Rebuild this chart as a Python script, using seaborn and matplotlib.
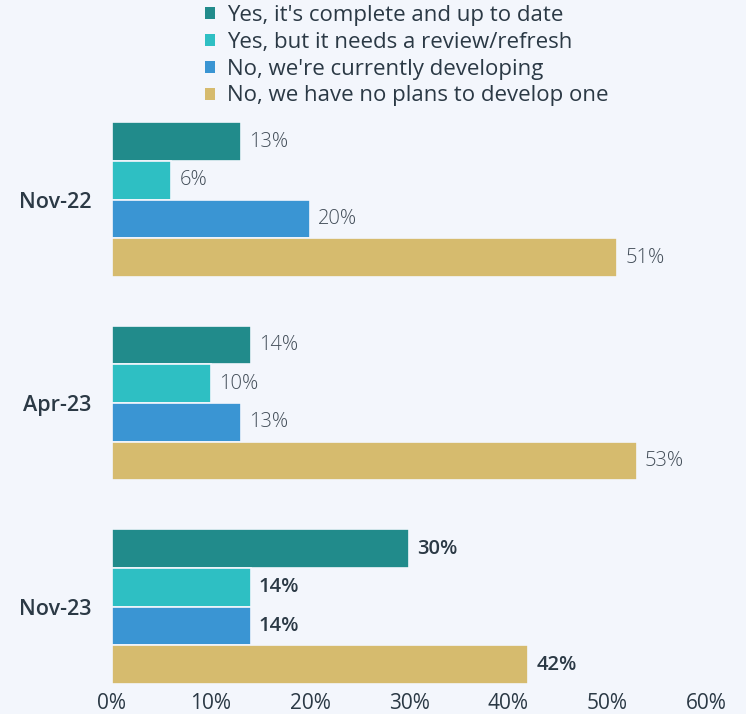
import matplotlib
matplotlib.use("Agg")
import pandas as pd
import matplotlib.pyplot as plt
import seaborn as sns
from matplotlib.patches import Patch

periods = ["Nov-22", "Apr-23", "Nov-23"]
responses = [
    "Yes, it's complete and up to date",
    "Yes, but it needs a review/refresh",
    "No, we're currently developing",
    "No, we have no plans to develop one",
]
complete = [13, 14, 30]
needs_review = [6, 10, 14]
developing = [20, 13, 14]
no_plans = [51, 53, 42]
x_ticks = [0, 10, 20, 30, 40, 50, 60]

colors = ["#218b8b", "#2ebfc3", "#3a95d3", "#d6bb6e"]
bg = "#f3f6fc"
dark = "#2b3945"
grey = "#434e59"

sns.set_theme(style="white")
plt.rcParams["font.family"] = ["Open Sans", "DejaVu Sans"]

df = pd.DataFrame({
    "period": periods * 4,
    "response": [r for r in responses for _ in periods],
    "value": complete + needs_review + developing + no_plans,
})

fig = plt.figure(figsize=(7.46, 7.14), dpi=100, facecolor=bg)
ax = fig.add_axes([112 / 746, 1 - 690 / 714, (706 - 112) / 746, (690 - 112) / 714])
ax.set_facecolor(bg)

sns.barplot(data=df, y="period", x="value", hue="response", hue_order=responses,
            order=periods, orient="h", palette=colors, width=0.76,
            edgecolor=bg, linewidth=1.2, saturation=1, legend=False, ax=ax)

# value labels: last survey is emphasised
for container in ax.containers:
    texts = ax.bar_label(container, fmt="%g%%", padding=6, fontsize=14.5,
                         color=grey, fontweight="light")
    texts[2].set_color(dark)
    texts[2].set_fontweight("semibold")

ax.set_xlim(0, 60)
ax.set_ylim(2.41, -0.43)
ax.set_xticks(x_ticks)
ax.set_xticklabels([f"{t}%" for t in x_ticks])
ax.set_xlabel("")
ax.set_ylabel("")
ax.tick_params(axis="x", labelsize=15, labelcolor=dark, length=0, pad=2)
ax.tick_params(axis="y", labelsize=15.5, labelcolor=dark, length=0, pad=15)
for lab in ax.get_yticklabels():
    lab.set_fontweight("semibold")
sns.despine(ax=ax, left=True, bottom=True)

handles = [Patch(facecolor=c, edgecolor="none") for c in colors]
fig.legend(handles, responses, loc="upper left", bbox_to_anchor=(204 / 746, 1 - 4 / 714),
           frameon=False, fontsize=16, labelcolor=dark, handlelength=0.45,
           handleheight=0.45, handletextpad=0.55, labelspacing=0.26,
           borderaxespad=0.0, borderpad=0.05)

fig.savefig("out.png", dpi=100, facecolor=bg)
